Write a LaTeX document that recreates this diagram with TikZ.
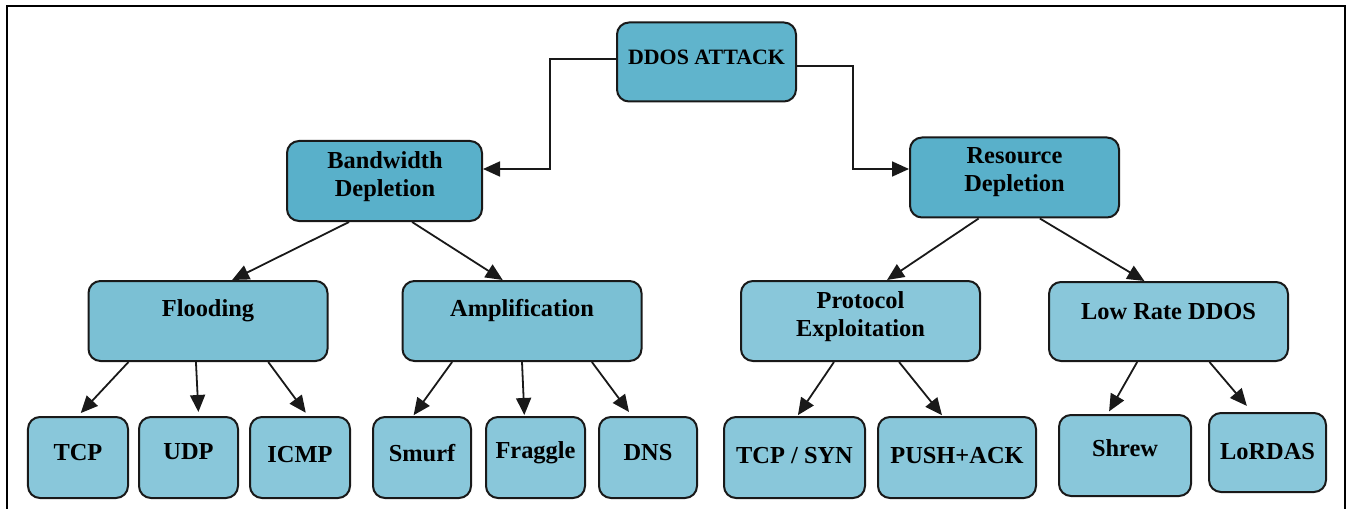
\documentclass[tikz,border=0pt]{standalone}
\usepackage{fontspec}
\setmainfont{Liberation Serif}
\usetikzlibrary{arrows.meta,calc}
\definecolor{topfill}{HTML}{60B4CC}
\definecolor{midfill}{HTML}{59B0CA}
\definecolor{lvlfill}{HTML}{7BC0D4}
\definecolor{leaffill}{HTML}{89C7DA}
\tikzset{
  box/.style={draw=black!90, line width=2bp, rounded corners=12bp, inner sep=0pt},
  txt/.style={font=\fontsize{24.5}{28}\selectfont\bfseries, align=center, inner sep=0pt},
  arr/.style={draw=black!90, line width=1.8bp, -{Triangle[length=17bp,width=15bp]}},
}
\begin{document}
\begin{tikzpicture}[x=1bp,y=-1bp]
\useasboundingbox (0,0) rectangle (1349,509);
% frame
\draw[line width=2.5bp] (7,509) -- (7,6) -- (1345,6) -- (1345,509);

% boxes
\node[box, fill=topfill, minimum width=179bp, minimum height=79bp] (ddos) at (706.5,62) {};
\node[box, fill=midfill, minimum width=195bp, minimum height=80bp] (bw) at (384.5,181) {};
\node[box, fill=midfill, minimum width=209bp, minimum height=80bp] (res) at (1014.5,177.5) {};
\node[box, fill=lvlfill, minimum width=239bp, minimum height=80bp] (flood) at (208,321) {};
\node[box, fill=lvlfill, minimum width=239bp, minimum height=80bp] (amp) at (522,321) {};
\node[box, fill=leaffill, minimum width=239bp, minimum height=80bp] (proto) at (860.5,321) {};
\node[box, fill=leaffill, minimum width=239bp, minimum height=79bp] (low) at (1168.5,321.5) {};
\node[box, fill=leaffill, minimum width=100bp, minimum height=81bp] (tcp) at (78,457.5) {};
\node[box, fill=leaffill, minimum width=99bp, minimum height=81bp] (udp) at (188.5,457.5) {};
\node[box, fill=leaffill, minimum width=100bp, minimum height=81bp] (icmp) at (300,457.5) {};
\node[box, fill=leaffill, minimum width=98bp, minimum height=81bp] (smurf) at (422,457.5) {};
\node[box, fill=leaffill, minimum width=99bp, minimum height=81bp] (fraggle) at (535.5,457.5) {};
\node[box, fill=leaffill, minimum width=98bp, minimum height=81bp] (dns) at (648,457.5) {};
\node[box, fill=leaffill, minimum width=141bp, minimum height=81bp] (tcpsyn) at (794.5,457.5) {};
\node[box, fill=leaffill, minimum width=158bp, minimum height=81bp] (push) at (957,457.5) {};
\node[box, fill=leaffill, minimum width=132bp, minimum height=81bp] (shrew) at (1125,455.5) {};
\node[box, fill=leaffill, minimum width=117bp, minimum height=79bp] (lordas) at (1267.5,452.5) {};

% texts
\node[txt, font=\fontsize{22}{26}\selectfont\bfseries] (tddos) at (706.5,57) {DDOS ATTACK};
\node[txt] (tbw) at (385,176.5) {Bandwidth\\Depletion};
\node[txt] (tres) at (1014.5,172.5) {Resource\\Depletion};
\node[txt] (tflood) at (208,311) {Flooding};
\node[txt] (tamp) at (522,311) {Amplification};
\node[txt] (tproto) at (860.5,317) {Protocol\\Exploitation};
\node[txt] (tlow) at (1168.5,312) {Low Rate DDOS};
\node[txt] (ttcp) at (78,453) {TCP};
\node[txt] (tudp) at (188.5,452) {UDP};
\node[txt] (ticmp) at (300,455) {ICMP};
\node[txt] (tsmurf) at (422,453) {Smurf};
\node[txt] (tfraggle) at (535.5,453) {Fraggle};
\node[txt] (tdns) at (648,453) {DNS};
\node[txt] (ttcpsyn) at (794.5,456) {TCP / SYN};
\node[txt] (tpush) at (957,456) {PUSH+ACK};
\node[txt] (tshrew) at (1125,448) {Shrew};
\node[txt] (tlordas) at (1267.5,452) {LoRDAS};

% elbow connectors
\coordinate (l1) at (550,59);
\coordinate (l2) at (550,169);
\coordinate (r1) at (853,66);
\coordinate (r2) at (853,169);
\draw[arr] (ddos.west |- l1) -- (l1) -- (l2) -- (bw.east |- l2);
\draw[arr] (ddos.east |- r1) -- (r1) -- (r2) -- (res.west |- r2);

% tree connectors
\newcommand{\conn}[5]{%
  \draw[arr,#5] ($(#1.south west)!#2!(#1.south east)$) -- ($(#3.north west)!#4!(#3.north east)$);}
\conn{bw}{0.32}{flood}{0.60}{}
\conn{bw}{0.64}{amp}{0.42}{}
\conn{res}{0.33}{proto}{0.61}{}
\conn{res}{0.62}{low}{0.40}{}
\conn{flood}{0.17}{tcp}{0.50}{shorten >=4bp}
\conn{flood}{0.45}{udp}{0.60}{shorten >=4bp}
\conn{flood}{0.75}{icmp}{0.58}{shorten >=4bp}
\conn{amp}{0.21}{smurf}{0.41}{shorten >=1bp}
\conn{amp}{0.50}{fraggle}{0.39}{shorten >=1bp}
\conn{amp}{0.79}{dns}{0.34}{shorten >=5bp}
\conn{proto}{0.39}{tcpsyn}{0.52}{shorten >=1bp}
\conn{proto}{0.66}{push}{0.41}{shorten >=1bp}
\conn{low}{0.37}{shrew}{0.37}{shorten >=3bp}
\conn{low}{0.67}{lordas}{0.37}{shorten >=8bp}
\end{tikzpicture}
\end{document}
